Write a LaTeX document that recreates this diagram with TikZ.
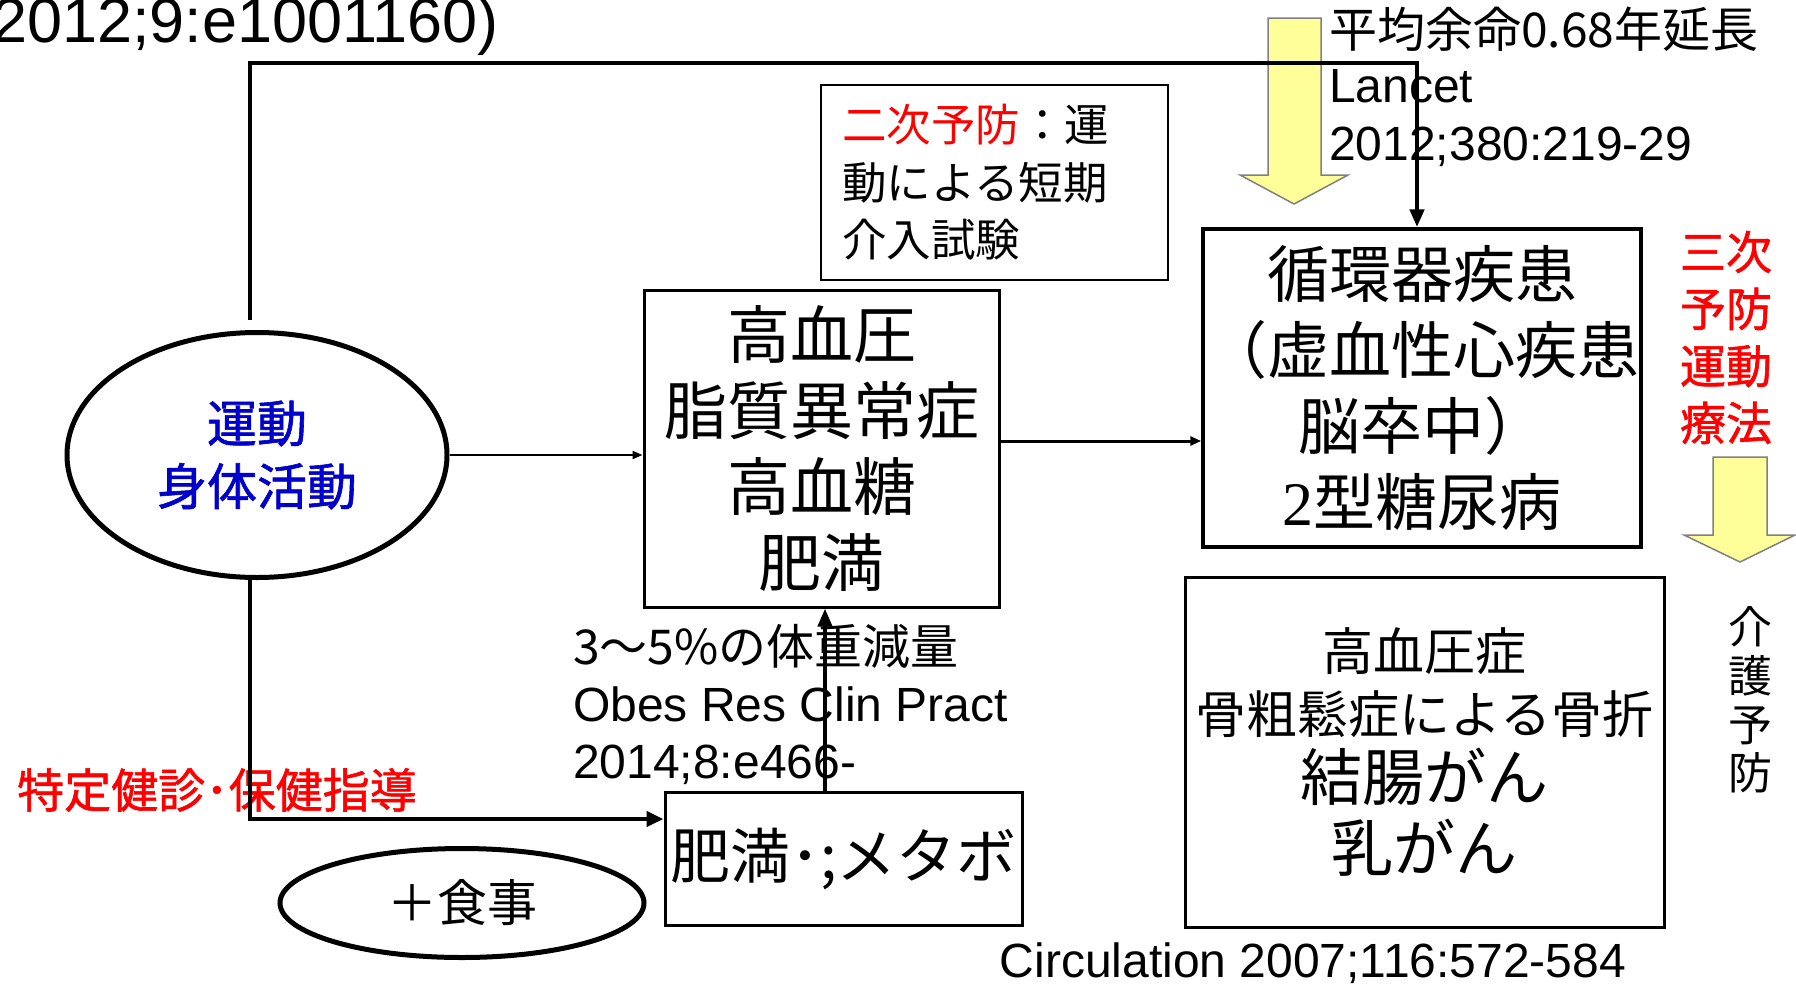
\documentclass[tikz,border=0pt]{standalone}
\usepackage{fontspec}
\setmainfont{Liberation Sans}
\newfontfamily\jp{Noto Sans CJK JP}
\newfontfamily\jpbold[FakeBold=1.2]{Noto Sans CJK JP}
\newfontfamily\serifnum{Liberation Serif}
\usetikzlibrary{arrows.meta,shapes.geometric,calc}
\definecolor{redtxt}{HTML}{FF0000}
\definecolor{bluetxt}{HTML}{0000CC}
\definecolor{yel}{HTML}{FFFF99}
\definecolor{yeledge}{HTML}{808080}
\newcommand\setfs[2]{\fontsize{#1}{#2}\selectfont}
\begin{document}
\begin{tikzpicture}[x=1pt,y=-1pt,
  box/.style={draw, inner sep=0pt, align=center},
  yarrow/.style={fill=yel, draw=yeledge, line width=1.5pt, line join=miter},
  reftext/.style={anchor=base west, inner sep=0pt, font=\setfs{48}{58}},
  ]
\useasboundingbox (0,0) rectangle (1796,985);
\fill[white] (0,0) rectangle (1796,985);

% yellow arrows
\draw[yarrow] (1268,18) -- (1321,18) -- (1321,175) -- (1348,175) -- (1294,204) -- (1240,175) -- (1268,175) -- cycle;
\draw[yarrow] (1713,457) -- (1767,457) -- (1767,535) -- (1795,535) -- (1740,562) -- (1684,535) -- (1713,535) -- cycle;

% reference texts
\node[anchor=base east, inner sep=0pt, font=\setfs{63}{70}] (ref1) at (499,42) {2012;9:e1001160)};
\node[reftext, font=\jp\setfs{48}{58}] (lan1) at (1329,47) {平均余命0.68年延長};
\node[reftext] (lan2) at (1329,102) {Lancet};
\node[reftext] (lan3) at (1329,160) {2012;380:219-29};
\node[reftext, font=\jp\setfs{48}{58}] (obe1) at (573,664) {3〜5\%の体重減量};
\node[reftext] (obe2) at (573,721) {Obes Res Clin Pract};
\node[reftext] (obe3) at (573,778) {2014;8:e466-};
\node[anchor=base, inner sep=0pt, font=\setfs{48}{58}] (circref) at (1313,977) {Circulation 2007;116:572-584};

% boxes
\node[box, line width=3pt, minimum width=355pt, minimum height=317pt, font=\jp\setfs{63}{76}] (kou) at (821.5,448.5) {高血圧\\脂質異常症\\高血糖\\肥満};
\node[box, line width=3.5pt, minimum width=438pt, minimum height=318pt, font=\jp\setfs{62}{76}] (circ) at (1422,388) {循環器疾患\\（虚血性心疾患\\脳卒中）\\{\serifnum 2}型糖尿病};
\node[draw, line width=2pt, minimum width=347pt, minimum height=195pt, text width=305pt, align=left, inner xsep=21pt, inner ysep=0pt, font=\jp\setfs{44.5}{57.5}] (niji) at (994.5,182.5) {\textcolor{redtxt}{二次予防}：運\\動による短期\\介入試験};
\node[box, line width=3pt, minimum width=479pt, minimum height=350pt, font=\jp\setfs{51}{63}] (kou2) at (1424.5,752) {高血圧症\\骨粗鬆症による骨折\\[4pt]{\setfs{62}{70}結腸がん}\\[8pt]{\setfs{62}{70}乳がん}};
\node[box, line width=3pt, minimum width=357pt, minimum height=133pt, font=\jp\setfs{60}{70}] (meta) at (843.5,858.5) {肥満･;メタボ};

% ellipses
\node[ellipse, draw, line width=5pt, minimum width=380pt, minimum height=245pt, inner sep=0pt, align=center, text=bluetxt, font=\jpbold\setfs{50}{63}] (undo) at (257,455) {運動\\身体活動};
\node[ellipse, draw, line width=5pt, minimum width=364pt, minimum height=109pt, inner sep=0pt, font=\jp\setfs{50}{60}] (shoku) at (462,903) {＋食事};

% red / side texts
\node[anchor=west, inner sep=0pt, text=redtxt, font=\jpbold\setfs{47}{56}] (toku) at (17,790) {特定健診･保健指導};
\node[align=center, inner sep=0pt, text=redtxt, font=\jpbold\setfs{46}{57}] (sanji) at (1726,337.5) {三次\\予防\\運動\\療法};
\node[align=center, inner sep=0pt, font=\jp\setfs{44}{48.6}] (kaigo) at (1750,700) {介\\護\\予\\防};

% connectors
\coordinate (tl) at (250,320);
\coordinate (tr) at (1417,63);
\draw[line width=4.5pt, -{Triangle[length=18pt,width=14pt]}] (tl) |- (tr) -- (tr |- circ.north);
\coordinate (bl) at (250,580);
\coordinate (y819) at (0,819);
\draw[line width=4.5pt, -{Triangle[length=17pt,width=15pt]}] (bl) |- (meta.west |- y819);
\draw[line width=2pt, -{Triangle[length=10pt,width=8pt]}] (undo.east) -- (kou.west |- undo.east);
\coordinate (y441) at (0,441);
\draw[line width=3pt, -{Triangle[length=11pt,width=9pt]}] (kou.east |- y441) -- (circ.west |- y441);
\coordinate (x825) at (825,0);
\draw[line width=4pt, -{Triangle[length=18pt,width=14pt]}] (meta.north -| x825) -- (kou.south -| x825);
\end{tikzpicture}
\end{document}
